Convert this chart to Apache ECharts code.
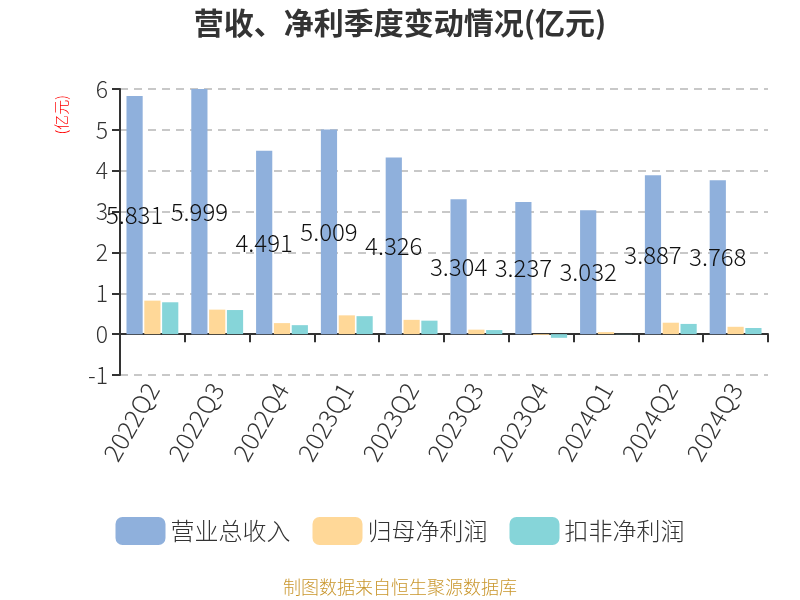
<!DOCTYPE html>
<html><head><meta charset="utf-8">
<script src="https://cdn.jsdelivr.net/npm/echarts@6/dist/echarts.min.js"></script>
<style>html,body{margin:0;padding:0;background:#fff}#c{width:800px;height:600px}</style>
</head><body><div id="c"></div>
<script>
var categories = ['2022Q2','2022Q3','2022Q4','2023Q1','2023Q2','2023Q3','2023Q4','2024Q1','2024Q2','2024Q3'];
var revenue = [5.831, 5.999, 4.491, 5.009, 4.326, 3.304, 3.237, 3.032, 3.887, 3.768];
var netProfit = [0.82, 0.60, 0.27, 0.46, 0.35, 0.11, -0.02, 0.05, 0.28, 0.18];
var deductedProfit = [0.78, 0.59, 0.22, 0.44, 0.33, 0.10, -0.09, 0.005, 0.25, 0.15];
var seriesNames = ['营业总收入', '归母净利润', '扣非净利润'];
var yTicks = {min: -1, max: 6, interval: 1};

var font = '"Noto Sans CJK SC", "Noto Sans", sans-serif';
var chart = echarts.init(document.getElementById('c'));
chart.setOption({
  animation: false,
  textStyle: {fontFamily: font},
  title: {text: '营收、净利季度变动情况(亿元)', left: 'center', top: 3,
    textStyle: {fontSize: 30, fontWeight: 'bold', color: '#333', fontFamily: font}},
  color: ['#8fb0dc', '#ffd898', '#86d5d9'],
  legend: {bottom: 50, itemWidth: 50, itemHeight: 28, itemGap: 22,
    textStyle: {fontSize: 24, color: '#333', fontWeight: 300, fontFamily: font}, data: seriesNames},
  grid: {left: 120, right: 32, top: 89, bottom: 225, containLabel: false},
  xAxis: [{
    type: 'category', data: categories,
    axisLine: {onZero: true, lineStyle: {color: '#333', width: 2}},
    axisTick: {show: true, length: 8, lineStyle: {color: '#333', width: 2}},
    axisLabel: {show: false}
  }, {
    type: 'category', data: categories, position: 'bottom',
    axisLine: {show: false}, axisTick: {show: false},
    axisLabel: {rotate: 60, fontSize: 25, color: '#333', fontWeight: 300, margin: 10, interval: 0, fontFamily: font}
  }],
  yAxis: {
    type: 'value', min: yTicks.min, max: yTicks.max, interval: yTicks.interval,
    axisLine: {show: true, lineStyle: {color: '#333', width: 2}},
    axisTick: {show: true, length: 8, lineStyle: {color: '#333', width: 2}},
    axisLabel: {fontSize: 23, color: '#333', fontWeight: 300, margin: 12, fontFamily: font},
    splitLine: {lineStyle: {type: [8, 6], color: '#c8c8c8', width: 2}}
  },
  graphic: [{
    type: 'text', left: 54, top: 95, rotation: Math.PI / 2,
    style: {text: '(亿元)', fill: '#ff0000', fontSize: 15, fontWeight: 300, fontFamily: font}
  }, {
    type: 'text', left: 'center', top: 578,
    style: {text: '制图数据来自恒生聚源数据库', fill: '#c9962c', fontSize: 18, fontWeight: 300, fontFamily: font}
  }],
  series: [{
    name: seriesNames[0], type: 'bar', data: revenue, barGap: '10%', barCategoryGap: '20%',
    label: {show: true, position: 'inside', color: '#111', fontSize: 24, fontWeight: 300, fontFamily: font,
      formatter: function(p){ return p.value.toFixed(3); }}
  }, {
    name: seriesNames[1], type: 'bar', data: netProfit, barGap: '10%', barCategoryGap: '20%'
  }, {
    name: seriesNames[2], type: 'bar', data: deductedProfit, barGap: '10%', barCategoryGap: '20%'
  }]
});
</script></body></html>
